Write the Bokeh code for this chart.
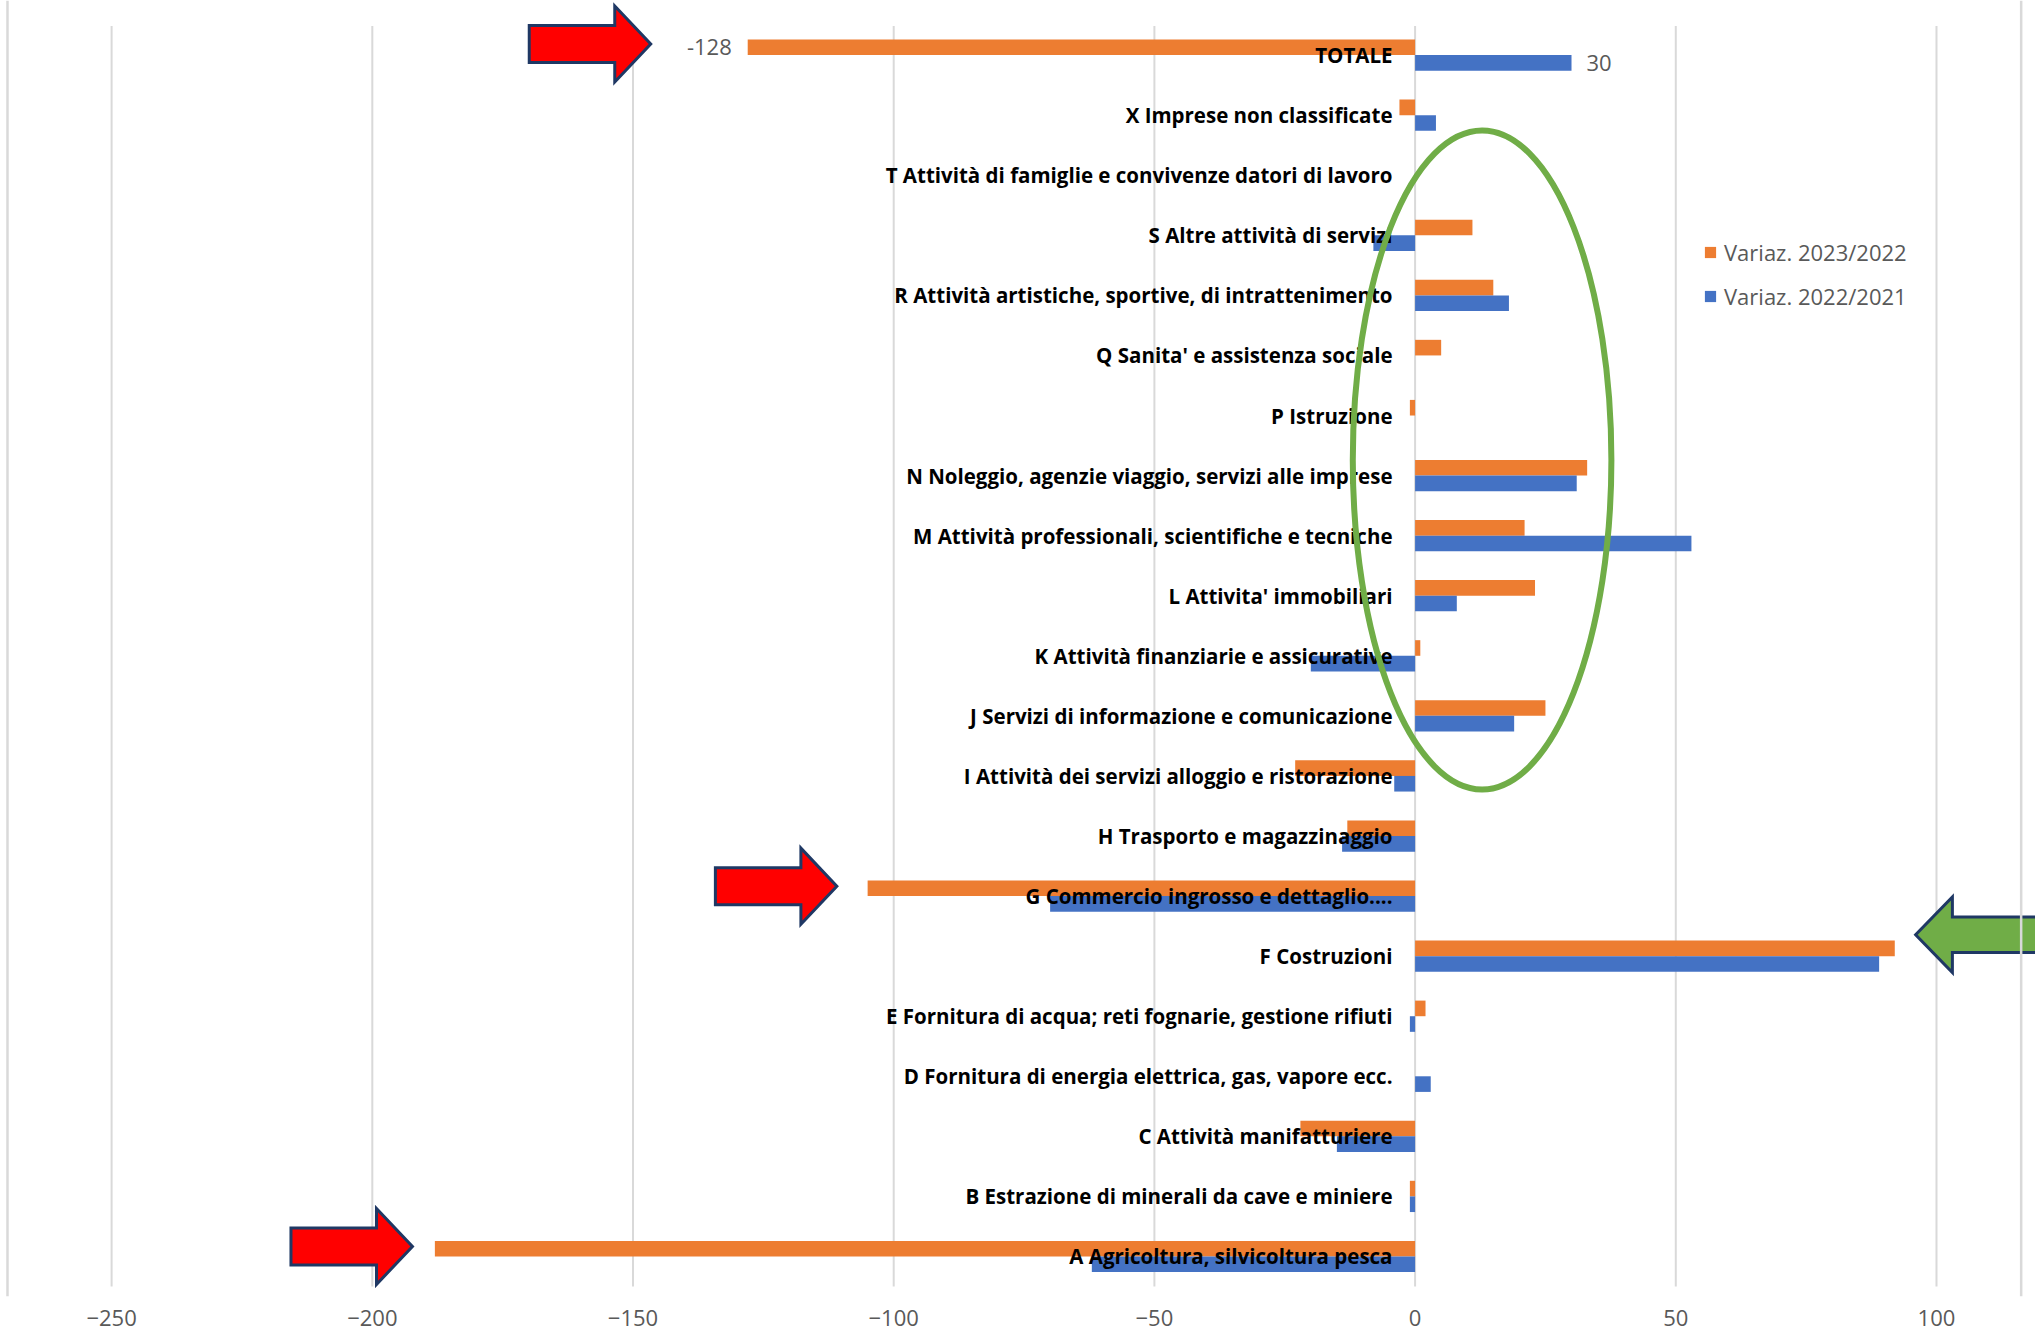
from bokeh.plotting import figure
from bokeh.models import Range1d, FixedTicker, Legend, LegendItem, Span
from bokeh.core.properties import value
from bokeh.embed import file_html
from bokeh.resources import INLINE

# ---------------- data ----------------
categories = [
    "A Agricoltura, silvicoltura pesca",
    "B Estrazione di minerali da cave e miniere",
    "C Attività manifatturiere",
    "D Fornitura di energia elettrica, gas, vapore ecc.",
    "E Fornitura di acqua; reti fognarie, gestione rifiuti",
    "F Costruzioni",
    "G Commercio ingrosso e dettaglio....",
    "H Trasporto e magazzinaggio",
    "I Attività dei servizi alloggio e ristorazione",
    "J Servizi di informazione e comunicazione",
    "K Attività finanziarie e assicurative",
    "L Attivita' immobiliari",
    "M Attività professionali, scientifiche e tecniche",
    "N Noleggio, agenzie viaggio, servizi alle imprese",
    "P Istruzione",
    "Q Sanita' e assistenza sociale",
    "R Attività artistiche, sportive, di intrattenimento",
    "S Altre attività di servizi",
    "T Attività di famiglie e convivenze datori di lavoro",
    "X Imprese non classificate",
    "TOTALE",
]
var_2023_2022 = [-188, -1, -22, 0, 2, 92, -105, -13, -23, 25, 1, 23, 21, 33, -1, 5, 15, 11, 0, -3, -128]
var_2022_2021 = [-62, -1, -15, 3, -1, 89, -70, -14, -4, 19, -20, 8, 53, 31, 0, 0, 18, -8, 0, 4, 30]
series_names = ["Variaz. 2023/2022", "Variaz. 2022/2021"]
x_ticks = [-250, -200, -150, -100, -50, 0, 50, 100]

# annotation anchors (value, category position)
red_arrow_tip_x = [-146.6, -110.9, -192.3]
red_arrow_tip_y = [20.185, 6.165, 0.167]
green_arrow_tip = (96.0, 5.356)
ellipse_center = (12.85, 13.26)
ellipse_size = (49.6, 10.97)

ORANGE = "#ED7D31"
BLUE = "#4472C4"
GRID = "#D9D9D9"
GREY_TXT = "#595959"
NAVY = "#1F3864"

n = len(categories)
idx = list(range(n))
bar_h = 0.26
y_or = [i + bar_h / 2 for i in idx]
y_bl = [i - bar_h / 2 for i in idx]

X0, X1 = -271.31, 118.99
Y0, Y1 = -0.666, 20.909
GRID_Y0, GRID_Y1 = -0.499, 20.483

p = figure(frame_width=2035, frame_height=1296,
           x_range=Range1d(X0, X1), y_range=Range1d(Y0, Y1),
           output_backend="svg", toolbar_location=None,
           y_axis_location=None, min_border=0, min_border_bottom=42,
           background_fill_color="white", border_fill_color="white")
p.outline_line_color = None
p.xgrid.visible = False
p.ygrid.visible = False

ax = p.xaxis[0]
ax.ticker = FixedTicker(ticks=x_ticks)
ax.axis_line_color = None
ax.major_tick_line_color = None
ax.minor_tick_line_color = None
ax.major_label_text_font = "Open Sans"
ax.major_label_text_font_size = "22px"
ax.major_label_text_color = GREY_TXT
ax.major_label_standoff = 7

# grid lines (limited vertical extent like the Excel plot area)
p.segment(x0=x_ticks, x1=x_ticks, y0=[GRID_Y0] * len(x_ticks), y1=[GRID_Y1] * len(x_ticks),
          line_color=GRID, line_width=2)
# chart border lines
p.add_layout(Span(location=-269.97, dimension="height", line_color=GRID, line_width=2.5))
p.add_layout(Span(location=116.24, dimension="height", line_color=GRID, line_width=2.5))

r_or = p.hbar(y=y_or, left=0, right=var_2023_2022, height=bar_h, fill_color=ORANGE, line_color=None)
r_bl = p.hbar(y=y_bl, left=0, right=var_2022_2021, height=bar_h, fill_color=BLUE, line_color=None)

# category labels next to the zero axis
p.text(x=[0] * n, y=idx, text=categories, x_offset=-22.6,
       text_align="right", text_baseline="middle",
       text_font=value("Open Sans"), text_font_style="bold",
       text_font_size="20.5px", text_color="black")

# data labels for TOTALE
p.text(x=[var_2023_2022[-1]], y=[y_or[-1]], text=[str(var_2023_2022[-1])], x_offset=-16,
       text_align="right", text_baseline="middle", text_font=value("Open Sans"),
       text_font_size="22px", text_color=GREY_TXT)
p.text(x=[var_2022_2021[-1]], y=[y_bl[-1]], text=[str(var_2022_2021[-1])], x_offset=15,
       text_align="left", text_baseline="middle", text_font=value("Open Sans"),
       text_font_size="22px", text_color=GREY_TXT)

# green ellipse
p.ellipse(x=[ellipse_center[0]], y=[ellipse_center[1]], width=[ellipse_size[0]], height=[ellipse_size[1]],
          fill_color=None, line_color="#70AD47", line_width=6)

# red arrows
L, HL, BH, HH = 23.3, 6.9, 0.308, 0.633
xs, ys = [], []
for tx, ty in zip(red_arrow_tip_x, red_arrow_tip_y):
    xs.append([tx - L, tx - HL, tx - HL, tx, tx - HL, tx - HL, tx - L])
    ys.append([ty + BH, ty + BH, ty + HH, ty, ty - HH, ty - BH, ty - BH])
p.patches(xs=xs, ys=ys, fill_color="#FF0000", line_color=NAVY, line_width=3, line_join="miter")

# green arrow (pointing left)
gx, gy = green_arrow_tip
GHL, GBH, GHH = 7.05, 0.297, 0.628
p.patches(xs=[[gx + 40, gx + GHL, gx + GHL, gx, gx + GHL, gx + GHL, gx + 40]],
          ys=[[gy + GBH, gy + GBH, gy + GHH, gy, gy - GHH, gy - GBH, gy - GBH]],
          fill_color="#70AD47", line_color=NAVY, line_width=3, line_join="miter")

legend = Legend(items=[LegendItem(label=series_names[0], renderers=[r_or]),
                       LegendItem(label=series_names[1], renderers=[r_bl])],
                location=(1703, 985), orientation="vertical",
                glyph_width=14, glyph_height=14, label_height=29, spacing=14,
                label_standoff=7, padding=0, margin=0,
                border_line_color=None, background_fill_alpha=0,
                label_text_font="Open Sans", label_text_font_size="22px",
                label_text_color=GREY_TXT)
p.add_layout(legend)

open("out.html", "w", encoding="utf-8").write(file_html(p, INLINE))
